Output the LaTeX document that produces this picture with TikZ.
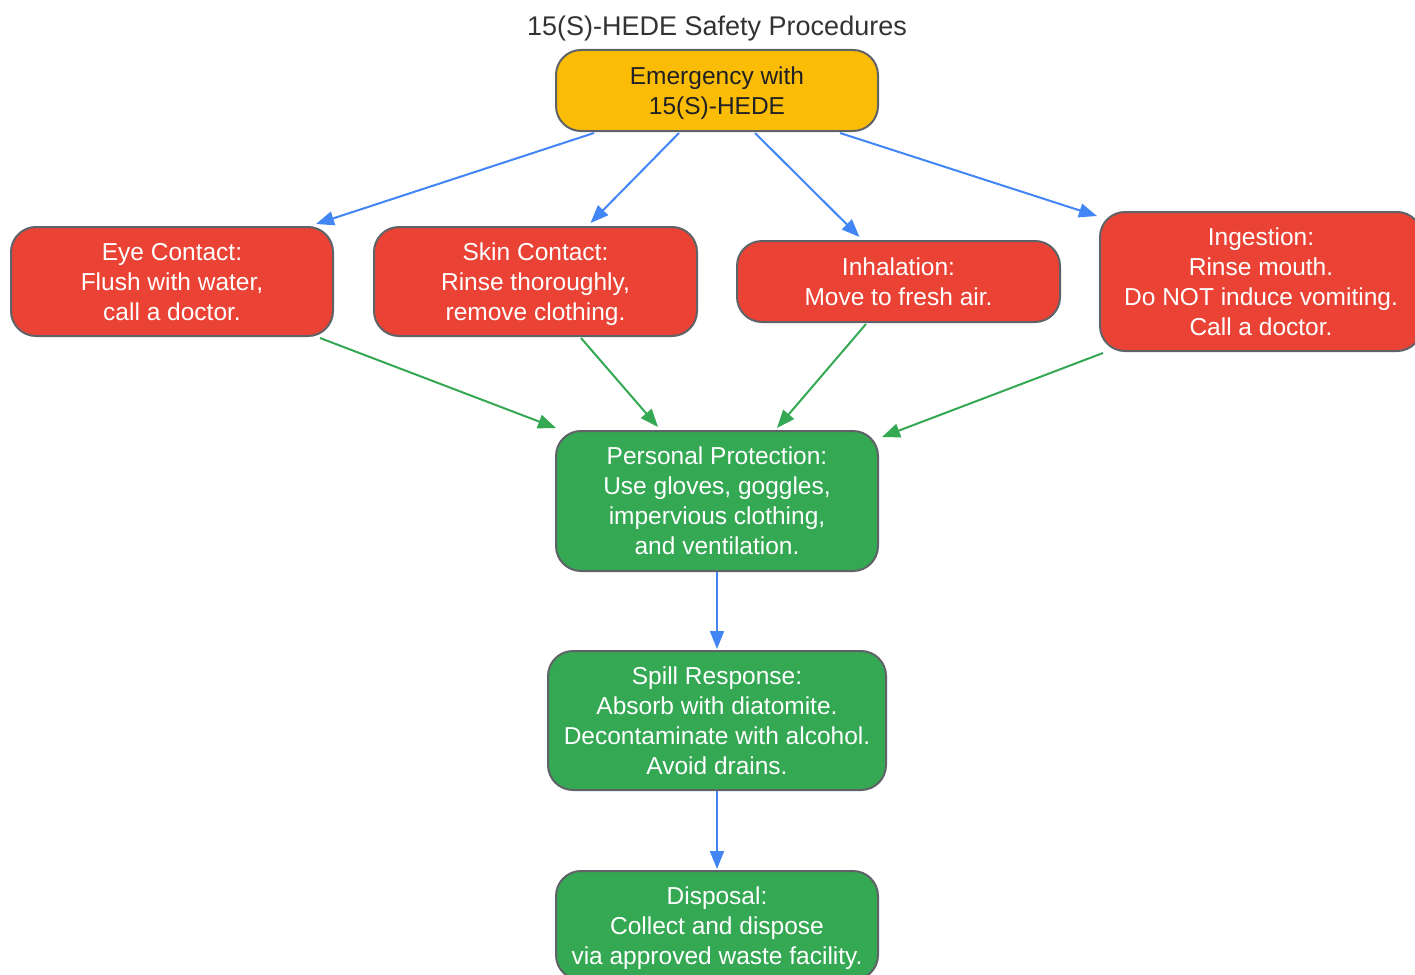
\documentclass[tikz,border=0pt]{standalone}
\usepackage{fontspec}
\setmainfont{Liberation Sans}
\usetikzlibrary{arrows.meta,calc}
\definecolor{cyel}{HTML}{FBBC05}
\definecolor{cred}{HTML}{EA4335}
\definecolor{cgreen}{HTML}{34A853}
\definecolor{cblue}{HTML}{4285F4}
\definecolor{cborder}{HTML}{5F6368}
\definecolor{ctext}{HTML}{202124}
\definecolor{ctitle}{HTML}{333333}
\newcommand{\topstr}{\rule{0pt}{23.5pt}}
\newcommand{\botstr}{\rule[-6.5pt]{0pt}{6.5pt}}
\tikzset{
  box/.style={draw=cborder, line width=2pt, rounded corners=25pt, align=center,
    font=\fontsize{24.5pt}{30pt}\selectfont, inner sep=0pt},
  yelbox/.style={box, fill=cyel, text=ctext},
  redbox/.style={box, fill=cred, text=white},
  grnbox/.style={box, fill=cgreen, text=white},
  tip/.style={-{Triangle[length=18pt,width=14pt]}},
  blueedge/.style={tip, draw=cblue, line width=2pt},
  greenedge/.style={tip, draw=cgreen, line width=2pt},
}
\begin{document}
\begin{tikzpicture}[x=1pt,y=-1pt]
\useasboundingbox (0,0) rectangle (1415,974);
\node[font=\fontsize{27pt}{32pt}\selectfont, text=ctitle] (title) at (717,28.5) {15(S)-HEDE Safety Procedures};
\node[yelbox, minimum width=322pt, minimum height=81pt] (emerg) at (717,90.5) {\topstr Emergency with\\15(S)-HEDE\botstr};
\node[redbox, minimum width=322pt, minimum height=109pt] (eye) at (172,281.5) {\topstr Eye Contact:\\Flush with water,\\call a doctor.\botstr};
\node[redbox, minimum width=323pt, minimum height=109pt] (skin) at (535.5,281.5) {\topstr Skin Contact:\\Rinse thoroughly,\\remove clothing.\botstr};
\node[redbox, minimum width=323pt, minimum height=81pt] (inh) at (898.5,281.5) {\topstr Inhalation:\\Move to fresh air.\botstr};
\node[redbox, minimum width=322pt, minimum height=139pt] (ing) at (1261,281.5) {\topstr Ingestion:\\Rinse mouth.\\Do NOT induce vomiting.\\Call a doctor.\botstr};
\node[grnbox, minimum width=322pt, minimum height=140pt] (pp) at (717,501) {\topstr Personal Protection:\\Use gloves, goggles,\\impervious clothing,\\and ventilation.\botstr};
\node[grnbox, minimum width=338pt, minimum height=139pt] (spill) at (717,720.5) {\topstr Spill Response:\\Absorb with diatomite.\\Decontaminate with alcohol.\\Avoid drains.\botstr};
\node[grnbox, minimum width=322pt, minimum height=109pt] (disp) at (717,925.5) {\topstr Disposal:\\Collect and dispose\\via approved waste facility.\botstr};

\draw[blueedge] ($(emerg.south)+(-123,1)$) -- ($(eye.north)+(144,-2)$);
\draw[blueedge] ($(emerg.south)+(-38,1)$) -- ($(skin.north)+(55,-3)$);
\draw[blueedge] ($(emerg.south)+(38,1)$) -- ($(inh.north)+(-39,-3)$);
\draw[blueedge] ($(emerg.south)+(123,1)$) -- ($(ing.north west)+(-2,5)$);

\draw[greenedge] ($(eye.south)+(148,1)$) -- ($(pp.north west)+(1,-2)$);
\draw[greenedge] ($(skin.south)+(45.5,1)$) -- ($(pp.north)+(-59,-3)$);
\draw[greenedge] ($(inh.south)+(-32.5,1)$) -- ($(pp.north)+(60,-2)$);
\draw[greenedge] ($(ing.south west)+(4,1)$) -- ($(pp.north east)+(3,7)$);

\draw[blueedge] (pp.south) -- ($(spill.north)+(0,-1)$);
\draw[blueedge] (spill.south) -- ($(disp.north)+(0,-1)$);
\end{tikzpicture}
\end{document}
